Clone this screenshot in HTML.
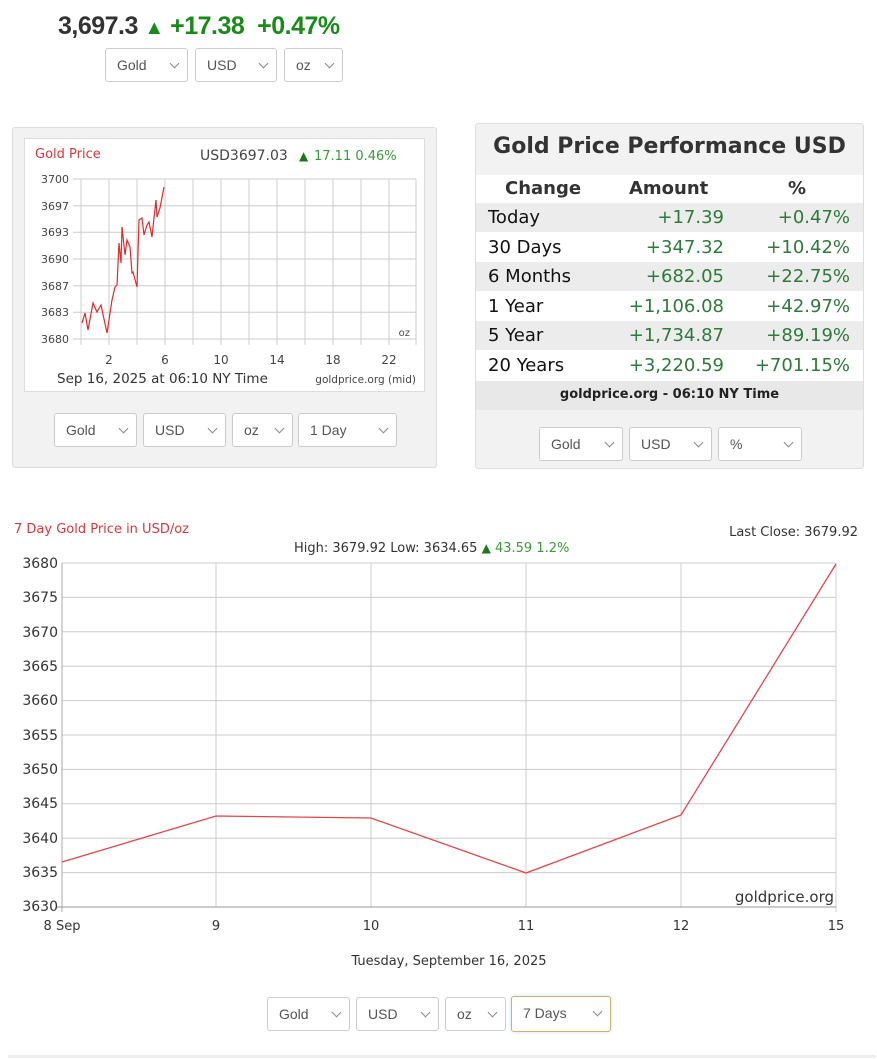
<!DOCTYPE html>
<html><head><meta charset="utf-8">
<style>
*{margin:0;padding:0;box-sizing:border-box}
body{width:877px;height:1059px;background:#fff;position:relative;overflow:hidden;font-family:"DejaVu Sans","Liberation Sans",sans-serif;color:#333}
.a{position:absolute;white-space:nowrap}
.sel{position:absolute;height:34px;border:1px solid #ccc;border-radius:3px;background:#fff;font-size:14px;color:#555;line-height:32px;padding-left:11px;font-family:"Liberation Sans",sans-serif}
.sel:after{content:"";position:absolute;right:9px;top:11px;width:6px;height:6px;border-right:1px solid #888;border-bottom:1px solid #888;transform:rotate(45deg)}
.g{color:#2d7a3a}
</style></head><body>

<div class="a" style="left:58px;top:12px;font-size:25px;font-weight:bold;font-family:'Liberation Sans',sans-serif;color:#333;letter-spacing:-0.5px">3,697.3 <span style="color:#1a8a1a;font-size:20px">&#9650;</span> <span style="color:#1a8a1a">+17.38&nbsp; +0.47%</span></div>
<div class="sel" style="left:105px;top:48px;width:83px">Gold</div>
<div class="sel" style="left:195px;top:48px;width:82px">USD</div>
<div class="sel" style="left:284px;top:48px;width:59px">oz</div>

<!-- small chart box -->
<div class="a" style="left:12px;top:127px;width:425px;height:341px;background:#f2f2f2;border:1px solid #ddd;border-radius:3px"></div>
<div class="a" style="left:24px;top:138px;width:401px;height:254px;background:#fff;border:1px solid #ddd"></div>
<svg class="a" style="left:0;top:0" width="440" height="400">
<g font-family="DejaVu Sans,sans-serif">
<text x="35" y="158" font-size="13" fill="#d9383a">Gold Price</text>
<text x="200" y="160" font-size="14" fill="#444">USD3697.03</text>
<text x="299" y="160" font-size="12" fill="#1a7a1a">&#9650;</text>
<text x="314" y="160" font-size="13" fill="#3a9a3a">17.11 0.46%</text>
<g stroke="#ccc" stroke-width="1">
<line x1="73" y1="179" x2="416" y2="179"/><line x1="73" y1="205.7" x2="416" y2="205.7"/><line x1="73" y1="232.3" x2="416" y2="232.3"/><line x1="73" y1="259" x2="416" y2="259"/><line x1="73" y1="285.7" x2="416" y2="285.7"/><line x1="73" y1="312.3" x2="416" y2="312.3"/><line x1="73" y1="339" x2="416" y2="339"/>
<line x1="81" y1="179" x2="81" y2="345"/><line x1="109" y1="179" x2="109" y2="345"/><line x1="137" y1="179" x2="137" y2="345"/><line x1="165" y1="179" x2="165" y2="345"/><line x1="193" y1="179" x2="193" y2="345"/><line x1="221" y1="179" x2="221" y2="345"/><line x1="249" y1="179" x2="249" y2="345"/><line x1="277" y1="179" x2="277" y2="345"/><line x1="305" y1="179" x2="305" y2="345"/><line x1="333" y1="179" x2="333" y2="345"/><line x1="361" y1="179" x2="361" y2="345"/><line x1="389" y1="179" x2="389" y2="345"/><line x1="416" y1="179" x2="416" y2="345"/>
</g>
<g font-size="11" fill="#444" text-anchor="end">
<text x="69" y="183">3700</text><text x="69" y="210">3697</text><text x="69" y="236">3693</text><text x="69" y="263">3690</text><text x="69" y="290">3687</text><text x="69" y="316">3683</text><text x="69" y="343">3680</text>
</g>
<g font-size="12" fill="#444" text-anchor="middle">
<text x="109" y="364">2</text><text x="165" y="364">6</text><text x="221" y="364">10</text><text x="277" y="364">14</text><text x="333" y="364">18</text><text x="389" y="364">22</text>
</g>
<text x="410" y="336" font-size="10" fill="#444" text-anchor="end">oz</text>
<text x="57" y="383" font-size="13.5" fill="#333">Sep 16, 2025 at 06:10 NY Time</text>
<text x="416" y="383" font-size="10.5" fill="#444" text-anchor="end">goldprice.org (mid)</text>
<polyline fill="none" stroke="#e02a2a" stroke-width="1.2" points="82,323 85,313 88,330 93,303 97,312 101,305 107,333 112,300 115,287 117,285 119,243 121,263 122,227 125,255 127,240 130,247 132,273 133,272 137,287 139,220 142,218 144,235 147,225 149,222 152,237 154,218 156,200 157,217 160,208 164,187"/>
</g>
</svg>
<div class="sel" style="left:54px;top:413px;width:83px">Gold</div>
<div class="sel" style="left:143px;top:413px;width:83px">USD</div>
<div class="sel" style="left:232px;top:413px;width:61px">oz</div>
<div class="sel" style="left:298px;top:413px;width:99px">1 Day</div>

<!-- performance -->
<div class="a" style="left:475px;top:123px;width:389px;height:346px;background:#f2f2f2;border:1px solid #ddd;border-radius:3px"></div>
<div class="a" style="left:476px;top:134px;width:387px;text-align:center;font-size:22px;font-weight:bold;font-family:'DejaVu Sans',sans-serif;color:#333">Gold Price Performance USD</div>
<div class="a" style="left:476px;top:175px;width:387px;height:206px;background:#fff"></div>
<div class="a" style="left:476px;top:203px;width:387px;height:29px;background:#ececec"></div>
<div class="a" style="left:476px;top:262px;width:387px;height:29px;background:#ececec"></div>
<div class="a" style="left:476px;top:321px;width:387px;height:29px;background:#ececec"></div>
<div class="a" style="left:476px;top:381px;width:387px;height:29px;background:#e8e8e8"></div>
<div class="a" style="left:505px;top:178px;font-size:18px;font-weight:bold;color:#333">Change</div>
<div class="a" style="left:629px;top:178px;font-size:18px;font-weight:bold;color:#333">Amount</div>
<div class="a" style="left:788px;top:178px;font-size:18px;font-weight:bold;color:#333">%</div>
<div class="a" style="left:488px;top:203px;font-size:18px;color:#111;line-height:29.6px">Today<br>30 Days<br>6 Months<br>1 Year<br>5 Year<br>20 Years</div>
<div class="a g" style="right:153px;top:203px;font-size:18px;line-height:29.6px;text-align:right">+17.39<br>+347.32<br>+682.05<br>+1,106.08<br>+1,734.87<br>+3,220.59</div>
<div class="a g" style="right:27px;top:203px;font-size:18px;line-height:29.6px;text-align:right">+0.47%<br>+10.42%<br>+22.75%<br>+42.97%<br>+89.19%<br>+701.15%</div>
<div class="a" style="left:476px;top:387px;width:387px;text-align:center;font-size:13px;font-weight:bold;color:#222">goldprice.org - 06:10 NY Time</div>
<div class="sel" style="left:539px;top:427px;width:84px">Gold</div>
<div class="sel" style="left:629px;top:427px;width:83px">USD</div>
<div class="sel" style="left:718px;top:427px;width:84px">%</div>

<!-- main chart -->
<svg class="a" style="left:0;top:500px" width="877" height="480">
<g font-family="DejaVu Sans,sans-serif">
<text x="14" y="33" font-size="13" fill="#d9383a">7 Day Gold Price in USD/oz</text>
<text x="858" y="36" font-size="13" fill="#333" text-anchor="end">Last Close: 3679.92</text>
<text x="294" y="52" font-size="13" fill="#333">High: 3679.92 Low: 3634.65 <tspan fill="#1a7a1a" font-size="12">&#9650;</tspan><tspan fill="#3a9a3a"> 43.59 1.2%</tspan></text>
<g stroke="#ccc" stroke-width="1">
<line x1="62" y1="63" x2="836" y2="63"/><line x1="62" y1="97.4" x2="836" y2="97.4"/><line x1="62" y1="131.8" x2="836" y2="131.8"/><line x1="62" y1="166.2" x2="836" y2="166.2"/><line x1="62" y1="200.6" x2="836" y2="200.6"/><line x1="62" y1="235" x2="836" y2="235"/><line x1="62" y1="269.4" x2="836" y2="269.4"/><line x1="62" y1="303.8" x2="836" y2="303.8"/><line x1="62" y1="338.2" x2="836" y2="338.2"/><line x1="62" y1="372.6" x2="836" y2="372.6"/>
<line x1="216" y1="63" x2="216" y2="407"/><line x1="371" y1="63" x2="371" y2="407"/><line x1="526" y1="63" x2="526" y2="407"/><line x1="681" y1="63" x2="681" y2="407"/><line x1="836" y1="63" x2="836" y2="412"/>
<line x1="62" y1="63" x2="62" y2="412" stroke="#aaa"/>
</g>
<line x1="56" y1="407" x2="836" y2="407" stroke="#999"/>
<g font-size="14" fill="#333" text-anchor="end">
<text x="58" y="68">3680</text><text x="58" y="102">3675</text><text x="58" y="137">3670</text><text x="58" y="171">3665</text><text x="58" y="205">3660</text><text x="58" y="240">3655</text><text x="58" y="274">3650</text><text x="58" y="308">3645</text><text x="58" y="343">3640</text><text x="58" y="377">3635</text><text x="58" y="411">3630</text>
</g>
<g font-size="13" fill="#333" text-anchor="middle">
<text x="62" y="430">8 Sep</text><text x="216" y="430">9</text><text x="371" y="430">10</text><text x="526" y="430">11</text><text x="681" y="430">12</text><text x="836" y="430">15</text>
</g>
<text x="834" y="402" font-size="15" fill="#333" text-anchor="end">goldprice.org</text>
<text x="449" y="465" font-size="13" fill="#333" text-anchor="middle">Tuesday, September 16, 2025</text>
<polyline fill="none" stroke="#e0474a" stroke-width="1.3" points="62,362 216,316 371,318 526,373 681,315 836,64"/>
</g>
</svg>
<div class="sel" style="left:267px;top:997px;width:83px">Gold</div>
<div class="sel" style="left:356px;top:997px;width:83px">USD</div>
<div class="sel" style="left:445px;top:997px;width:61px">oz</div>
<div class="sel" style="left:511px;top:996px;width:100px;height:36px;border-color:#c8b56a;box-shadow:0 0 4px #cfe3ee">7 Days</div>
<div class="a" style="left:8px;top:1055px;width:868px;height:3px;background:#eee"></div>
</body></html>
